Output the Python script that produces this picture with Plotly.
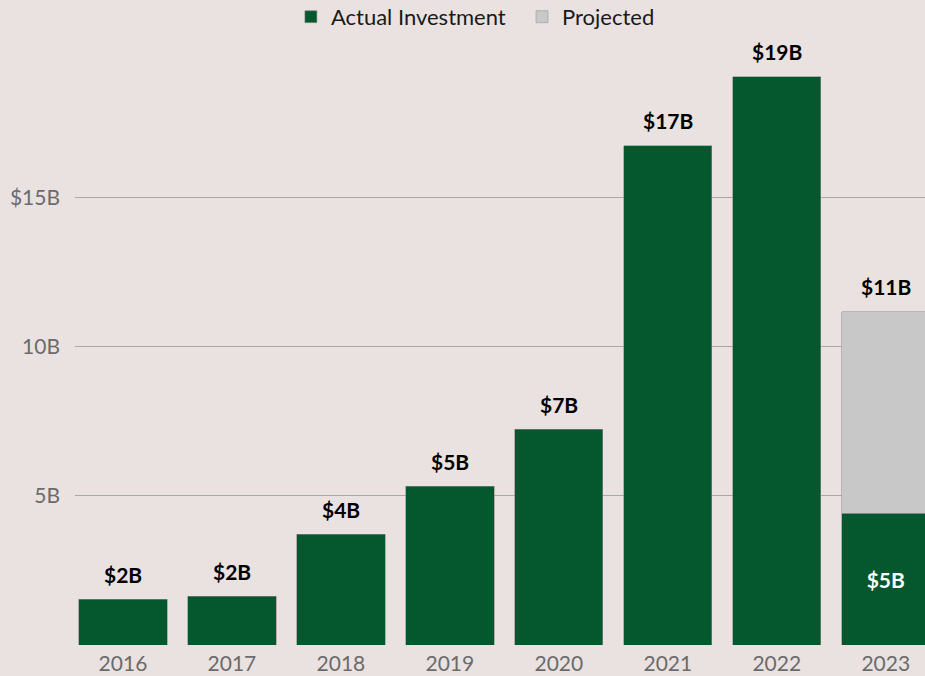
import plotly.graph_objects as go

years = ["2016", "2017", "2018", "2019", "2020", "2021", "2022", "2023"]
actual = [1.54, 1.64, 3.71, 5.32, 7.22, 16.72, 19.03, 4.41]
projected = [None, None, None, None, None, None, None, 6.76]
top_labels = ["$2B", "$2B", "$4B", "$5B", "$7B", "$17B", "$19B", "$11B"]
inside_labels = ["", "", "", "", "", "", "", "$5B"]
tick_vals = [5, 10, 15]
tick_text = ["5B", "10B", "$15B"]

GREEN = "#05572d"
GREY = "#c8c8c8"
BG = "#e9e2e1"
FONT = "Lato"

totals = [a + (p or 0) for a, p in zip(actual, projected)]

fig = go.Figure()
fig.add_trace(go.Bar(
    x=years, y=actual, name="Actual Investment\u00a0\u00a0",
    marker=dict(color=GREEN, line=dict(color="#8a8a8a", width=0.6)),
    text=inside_labels,
    textposition="inside",
    insidetextanchor="middle",
    insidetextfont=dict(family=FONT, size=21, color="#ffffff", weight="bold"),
    hoverinfo="skip",
))
fig.add_trace(go.Bar(
    x=years, y=projected, name="Projected",
    marker=dict(color=GREY, line=dict(color="#9a9a9a", width=0.6)),
    hoverinfo="skip",
))

for i, (tot, lab) in enumerate(zip(totals, top_labels)):
    fig.add_annotation(
        x=i, y=tot, xref="x", yref="y", text=lab, showarrow=False,
        yanchor="middle", yshift=25,
        font=dict(family=FONT, size=21, color="#000000", weight="bold"),
    )

fig.update_layout(
    width=925, height=676,
    barmode="stack", bargap=0.19,
    paper_bgcolor=BG, plot_bgcolor=BG,
    margin=dict(l=75, r=0, t=42, b=31),
    font=dict(family=FONT, size=21, color="#6b6b6b"),
    showlegend=True,
    legend=dict(orientation="h", x=0.254, xanchor="left", y=0.975, yanchor="middle",
                yref="container", font=dict(family=FONT, size=22, color="#1a1a1a"),
                traceorder="normal", bgcolor="rgba(0,0,0,0)"),
)
fig.update_xaxes(
    type="category", range=[-0.44, 7.36], showgrid=False, showline=False,
    ticks="", ticklabelstandoff=4, tickfont=dict(family=FONT, size=21, color="#6b6b6b"),
)
fig.update_yaxes(
    range=[0, 20.2], tickvals=tick_vals, ticktext=tick_text,
    showgrid=True, gridcolor="#a8a8a8", gridwidth=1, zeroline=False,
    showline=False, ticks="", ticklabelstandoff=14,
    tickfont=dict(family=FONT, size=21, color="#6b6b6b"),
)

fig.write_html(
    "out.html",
    config={"displayModeBar": False},
    post_script="document.body.style.margin='0';document.body.style.overflow='hidden';",
)
